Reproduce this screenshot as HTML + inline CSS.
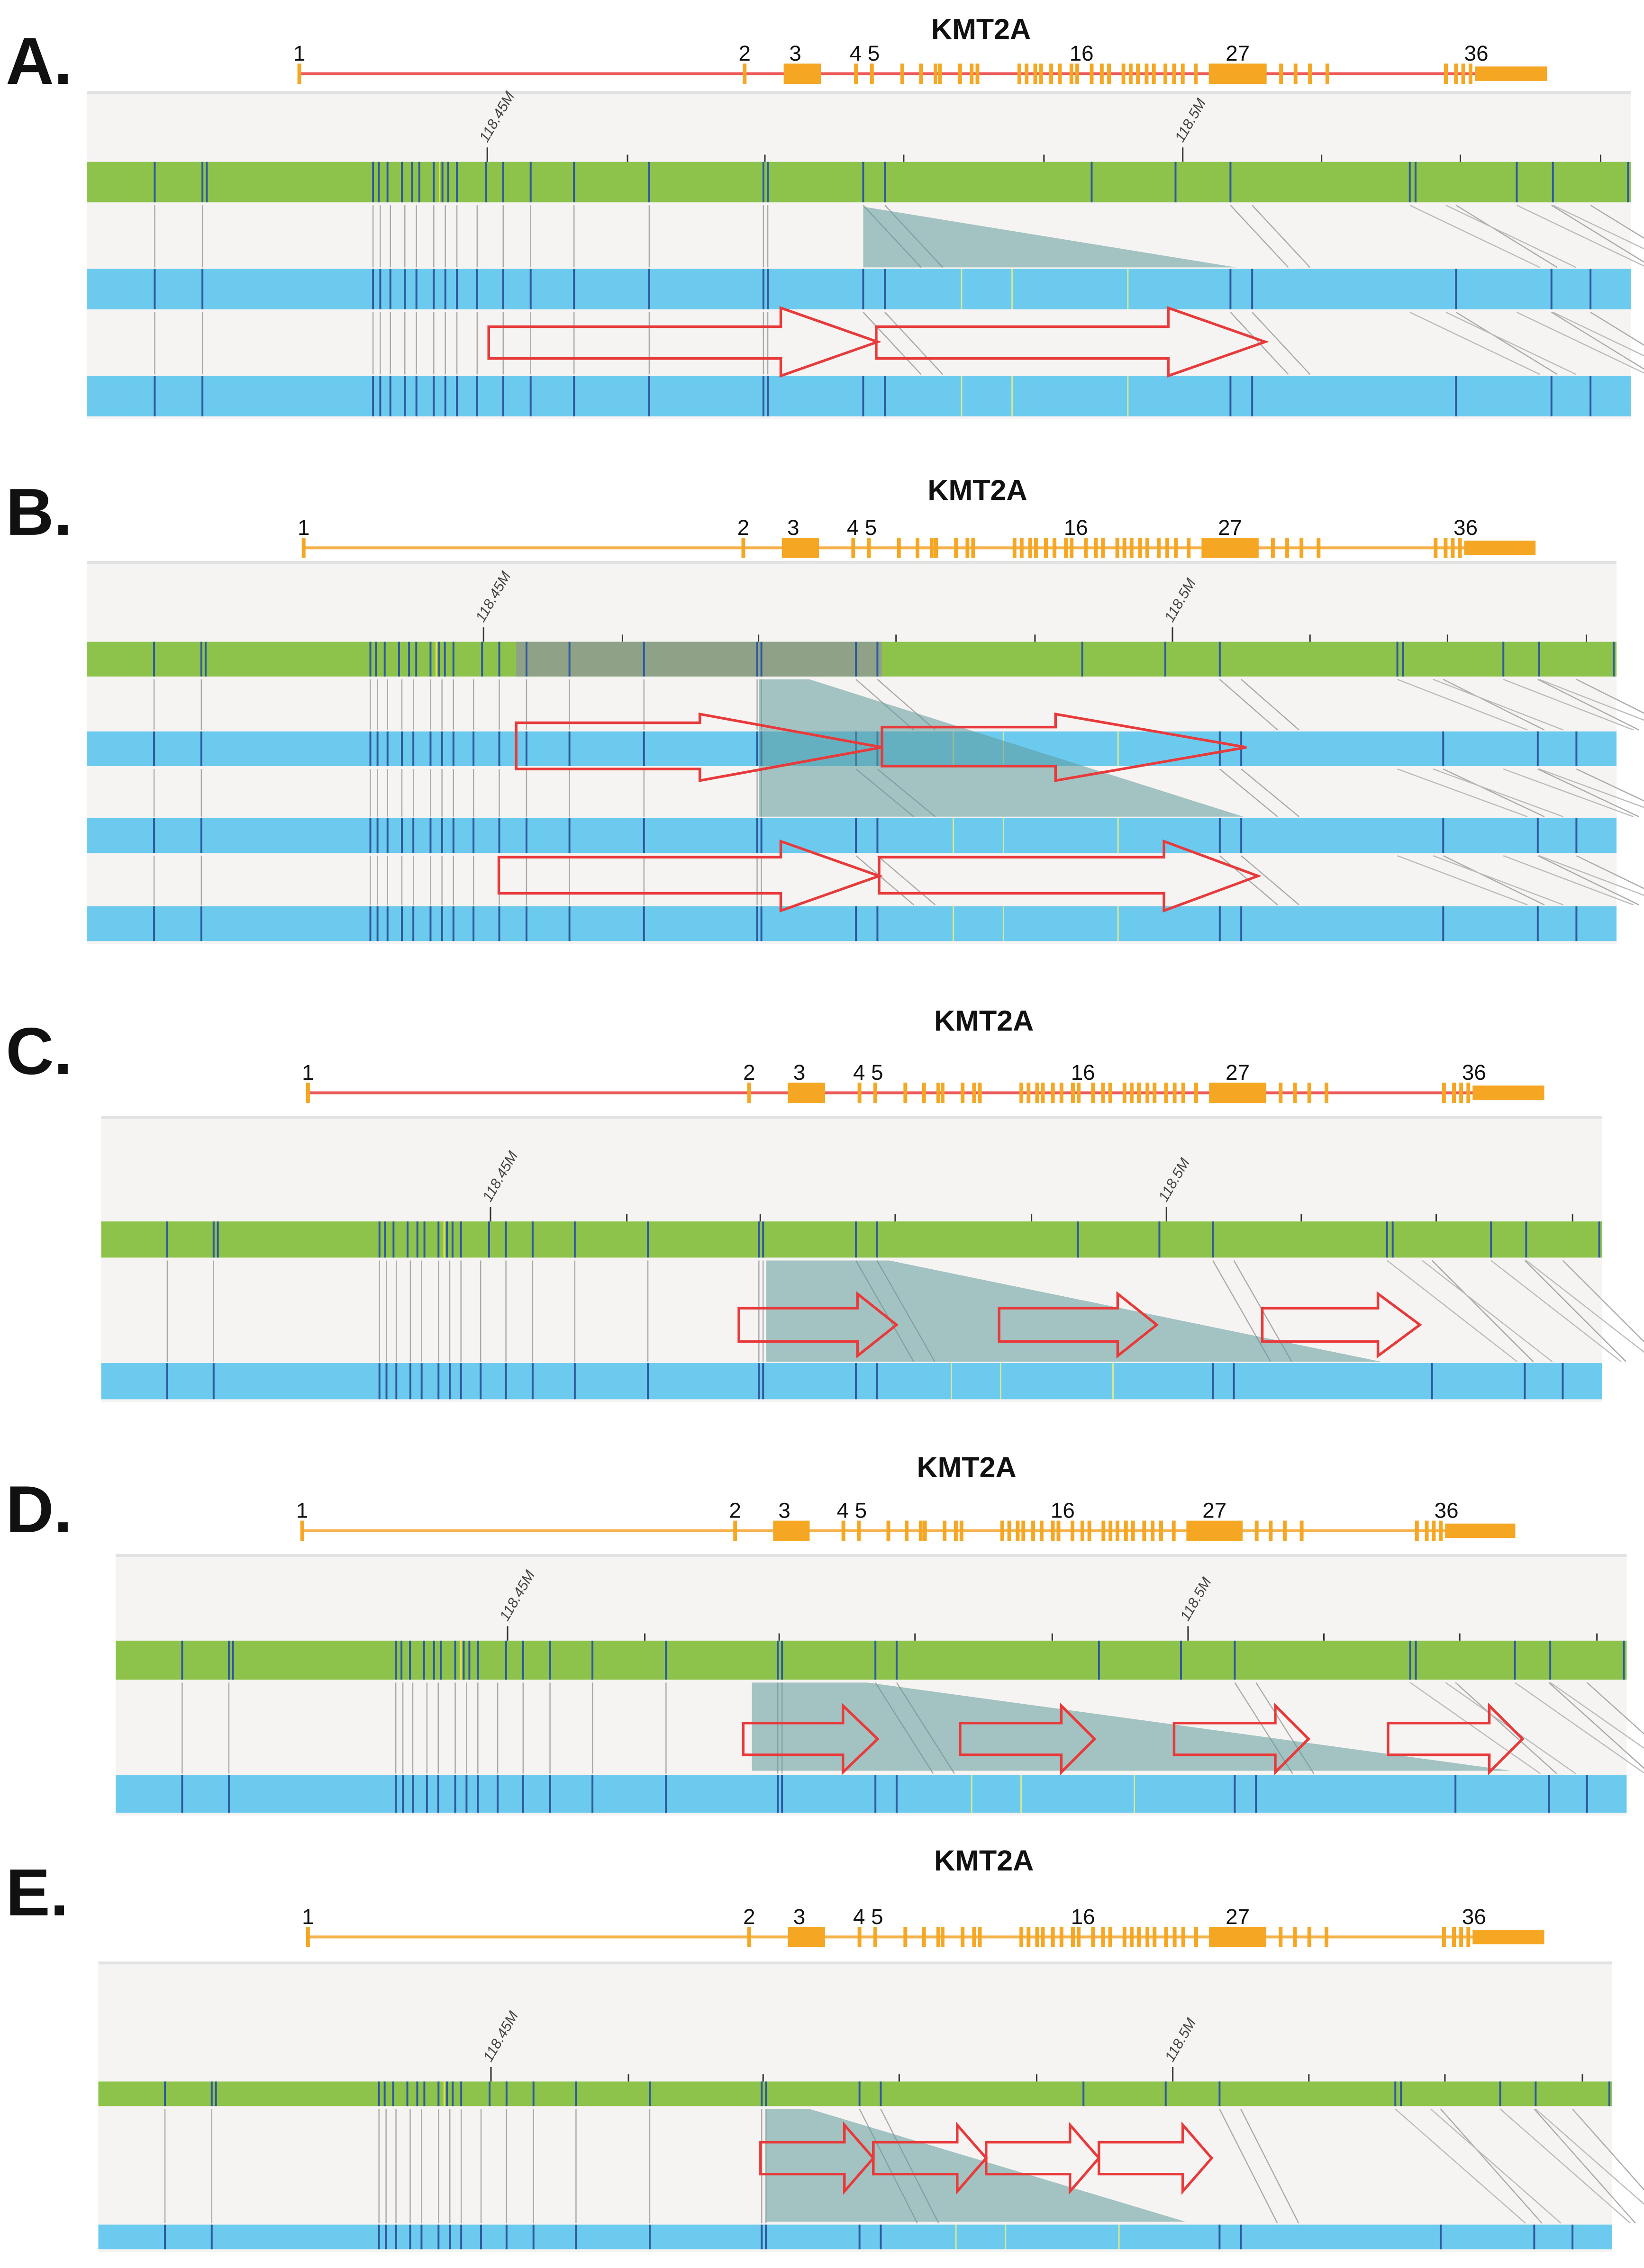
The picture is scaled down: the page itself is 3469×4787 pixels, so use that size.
<!DOCTYPE html>
<html><head><meta charset="utf-8"><style>
html,body{margin:0;padding:0;background:#fff;}
svg{display:block;}
text{font-family:"Liberation Sans",sans-serif;}
</style></head><body>
<svg id="fig" width="3469" height="4787" viewBox="0 0 1137 1569" preserveAspectRatio="none" xmlns="http://www.w3.org/2000/svg"></svg>
<script>
// ---- data (x positions in panel-A reference coordinates) ----
const exonThin = [207,515,592,603,624,637,647,650,664,672,676,705,710,716,720,727,733,741,745,755,762,767,777,782,787,793,798,806,812,818,827,886,896,906,918,1000,1007,1012,1017];
const exonBoxStart = [542,836,1020];
const exonBoxEnd = [568,876,1070];
const exonLabels = ["1","2","3","4 5","16","27","36"];
const exonLabelPos = [207,515,550,598,748,856,1021];
const topMarks = [107,140,143,258,262,268,278,285,290,300,306,310,316,336,348,367,397,449,528,531,597,612,755,813,851,975,979,1049,1074,1126];
const topYellow = [304];
const bottomMarks = [107,140,258,263,270,280,288,300,308,316,330,348,367,397,449,528,531,597,612,851,866,1007,1073,1100];
const bottomYellow = [665,700,780];
const tickPos = [337,434,529,625,722,818,914,1010,1107];
const tickLabels = {337:"118.45M",818:"118.5M"};

const NS="http://www.w3.org/2000/svg";
const svg=document.getElementById('fig');
function el(tag,attrs,parent){const e=document.createElementNS(NS,tag);for(const k in attrs)e.setAttribute(k,attrs[k]);(parent||svg).appendChild(e);return e;}

const panels=[
 {id:"a",letter:"A.",ly:45,title:20,geneY:51,g0:207,g1:1070,lineCol:"#ee5a5a",bgY:63,t0:60,t1:1128,green:[112,140],blues:[[186,214],[260,288]],
  tri:[[597,143],[597,185],[855,185]],overlay:null,
  arrows:[[338,607,540,226,248,213,260],[606,875,808,226,248,213,260]]},
 {id:"b",letter:"B.",ly:357,title:339,geneY:379,g0:210,g1:1062,lineCol:"#f5b14a",bgY:388,t0:60,t1:1118,green:[444,468],blues:[[506,530],[566,590],[627,651]],
  tri:[[525,470],[560,470],[860,565],[525,565]],overlay:[357,610,444,468],
  arrows:[[357,610,484,500,532,494,540],[610,862,730,503,530,494,540],[345,608,540,593,618,582,630],[608,870,805,593,618,582,630]]},
 {id:"c",letter:"C.",ly:730,title:706,geneY:756,g0:213,g1:1068,lineCol:"#ee5a5a",bgY:772,t0:70,t1:1108,green:[845,870],blues:[[943,968]],
  tri:[[530,872],[615,872],[955,942],[530,942]],overlay:null,
  arrows:[[511,620,593,905,928,895,938],[691,800,773,905,928,895,938],[873,982,953,905,928,895,938]]},
 {id:"d",letter:"D.",ly:1047,title:1015,geneY:1059,g0:209,g1:1048,lineCol:"#f5b14a",bgY:1075,t0:80,t1:1125,green:[1135,1162],blues:[[1228,1254]],
  tri:[[520,1164],[600,1164],[1045,1225],[520,1225]],overlay:null,
  arrows:[[514,607,583,1192,1214,1180,1226],[664,757,734,1192,1214,1180,1226],[812,905,882,1192,1214,1180,1226],[960,1053,1030,1192,1214,1180,1226]]},
 {id:"e",letter:"E.",ly:1312,title:1287,geneY:1340,g0:213,g1:1068,lineCol:"#f5b14a",bgY:1357,t0:68,t1:1115,green:[1440,1457],blues:[[1539,1556]],
  tri:[[530,1459],[560,1459],[820,1537],[530,1537]],overlay:null,
  arrows:[[526,604,584,1482,1504,1470,1516],[604,682,662,1482,1504,1470,1516],[682,760,740,1482,1504,1470,1516],[760,838,818,1482,1504,1470,1516]]}
];

panels.forEach(p=>{
  const g=el('g',{});
  
  
  const gx=x=>p.g0+(x-207)/(1070-207)*(p.g1-p.g0);
  const tx=x=>p.t0+(x-60)/(1128-60)*(p.t1-p.t0);
  const L=el('text',{x:4,y:p.ly+13,'font-size':46,'font-weight':'bold',fill:'#111'},g);L.textContent=p.letter;
  
  
  const T=el('text',{x:(p.g0+p.g1)/2+40,y:p.title+7,'font-size':20,'font-weight':'bold','text-anchor':'middle',fill:'#111'},g);T.textContent="KMT2A";
  
  
  const gl=el('line',{x1:gx(207),x2:gx(1070),y1:p.geneY,y2:p.geneY,stroke:p.lineCol,'stroke-width':2},g);
  
  
  exonThin.forEach(x=>{const r=el('rect',{x:gx(x)-1.3,y:p.geneY-7,width:2.6,height:14,fill:'#f5a623'},g);
    
    });
  exonBoxStart.forEach((s,i)=>{const last=i===2;const r=el('rect',{x:gx(s),y:p.geneY-(last?5:7),width:gx(exonBoxEnd[i])-gx(s),height:last?10:14,fill:'#f5a623'},g);
    
    });
  exonLabels.forEach((t,i)=>{const e=el('text',{x:gx(exonLabelPos[i]),y:p.geneY-9,'font-size':15,'text-anchor':'middle',fill:'#111'},g);e.textContent=t;
    
    });
  const lastBlue=p.blues[p.blues.length-1];
  const bg=el('rect',{x:p.t0,y:p.bgY,width:p.t1-p.t0,height:lastBlue[1]-p.bgY+2,fill:'#f5f4f2'},g);
  
  
  el('rect',{x:p.t0,y:p.bgY,width:p.t1-p.t0,height:2,fill:'#e2e2e2'},g);
  tickPos.forEach(x=>{const X=tx(x);const lab=tickLabels[x];
    el('line',{x1:X,x2:X,y1:p.green[0]-(lab?10:5),y2:p.green[0],stroke:'#333','stroke-width':1},g);
    if(lab){const t=el('text',{x:X,y:p.green[0]-13,'font-size':10,'font-style':'italic',fill:'#444',transform:`rotate(-60 ${X} ${p.green[0]-13})`},g);t.textContent=lab;
      
      }
  });
  const gb=el('rect',{x:p.t0,y:p.green[0],width:p.t1-p.t0,height:p.green[1]-p.green[0],fill:'#8dc34a'},g);
  
  
  if(p.overlay){el('rect',{x:p.overlay[0],y:p.overlay[2],width:p.overlay[1]-p.overlay[0],height:p.overlay[3]-p.overlay[2],fill:'#8f9e8f',opacity:0.9},g);}
  topMarks.forEach(x=>el('line',{x1:tx(x),x2:tx(x),y1:p.green[0],y2:p.green[1],stroke:'#2f5a9e','stroke-width':1.3},g));
  topYellow.forEach(x=>el('line',{x1:tx(x),x2:tx(x),y1:p.green[0],y2:p.green[1],stroke:'#e8e04a','stroke-width':1},g));
  let prevBottom=p.green[1];
  p.blues.forEach((b,bi)=>{
    bottomMarks.forEach(x=>{
      let shift = x<560 ? 0 : (x<900 ? 40 : 70);
      el('line',{x1:tx(x),y1:prevBottom+2,x2:tx(x)+shift,y2:b[0]-1,stroke:'#aaa','stroke-width':0.8},g);
    });
    [975,1000,1049,1074].forEach(x=>el('line',{x1:tx(x),y1:prevBottom+2,x2:tx(x)+90,y2:b[0]-1,stroke:'#bbb','stroke-width':0.8},g));
    const bb=el('rect',{x:p.t0,y:b[0],width:p.t1-p.t0,height:b[1]-b[0],fill:'#6ccaee'},g);
    
    
    bottomMarks.forEach(x=>el('line',{x1:tx(x),x2:tx(x),y1:b[0],y2:b[1],stroke:'#2f5a9e','stroke-width':1.3},g));
    bottomYellow.forEach(x=>el('line',{x1:tx(x),x2:tx(x),y1:b[0],y2:b[1],stroke:'#d8e890','stroke-width':1},g));
    prevBottom=b[1];
  });
  const tr=el('polygon',{points:p.tri.map(q=>q.join(',')).join(' '),fill:'#5f9a9a',opacity:0.55},g);
  
  
  p.arrows.forEach(a=>{const [x0,x1,hs,b0,b1,h0,h1]=a;const my=(h0+h1)/2;
    const ar=el('polygon',{points:`${x0},${b0} ${hs},${b0} ${hs},${h0} ${x1},${my} ${hs},${h1} ${hs},${b1} ${x0},${b1}`,fill:'none',stroke:'#e83a3a','stroke-width':1.8},g);
    
    
  });
});
</script>
</body></html>
